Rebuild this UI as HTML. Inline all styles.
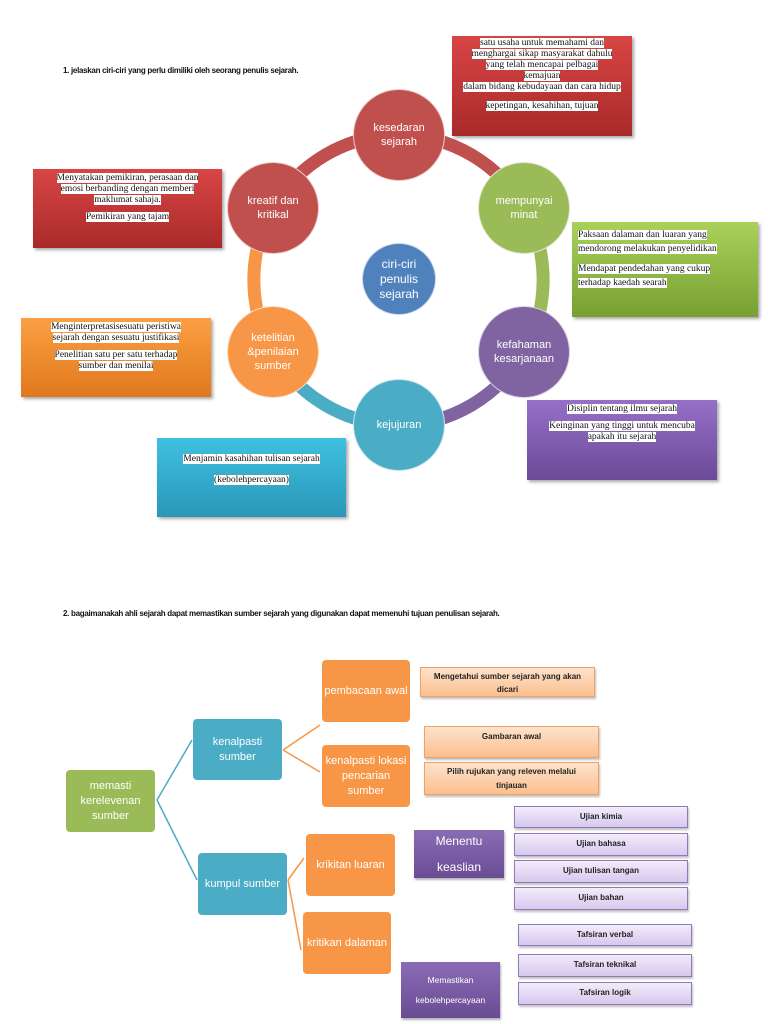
<!DOCTYPE html>
<html><head><meta charset="utf-8"><style>
body{margin:0;width:768px;height:1024px;background:#fff;position:relative;overflow:hidden;font-family:"Liberation Sans",sans-serif}
.t{position:absolute;font-size:8px;font-weight:bold;color:#111;white-space:nowrap;letter-spacing:-0.3px}
.box{position:absolute;box-sizing:border-box;text-align:center;font-family:"Liberation Serif",serif;font-size:9.5px;line-height:11px;color:#111;box-shadow:2px 2px 3px rgba(0,0,0,.35)}
.box span{background:#fff}
.box p{margin:0 0 6px 0}
.c{position:absolute;border-radius:50%;color:#fff;text-align:center;display:flex;align-items:center;justify-content:center;font-size:11px;line-height:14px;border:1.5px solid rgba(255,255,255,.7);box-sizing:border-box}
.n{position:absolute;box-sizing:border-box;border-radius:4px;color:#fff;display:flex;align-items:center;justify-content:center;text-align:center;font-size:11px;line-height:15px}
.lo{position:absolute;box-sizing:border-box;background:linear-gradient(#fde3cc,#fbbf8f);border:1px solid #f5a060;text-align:center;font-size:8px;font-weight:bold;color:#222;line-height:16px;box-shadow:1px 2px 2px rgba(0,0,0,.25)}
.lv{position:absolute;box-sizing:border-box;background:linear-gradient(#f2ecfa,#d7c8ee);border:1px solid #8f7ab8;text-align:center;font-size:8px;font-weight:bold;color:#222;line-height:20px;box-shadow:1px 2px 2px rgba(0,0,0,.25)}
</style></head><body>
<div class="t" style="left:63px;top:66px">1. jelaskan ciri-ciri yang perlu dimiliki oleh seorang penulis sejarah.</div>
<svg style="position:absolute;left:0;top:0" width="768" height="600">
<g fill="none" stroke-width="13">
<path d="M399 135 A145 145 0 0 1 524 208" stroke="#c0504d"/>
<path d="M524 208 A145 145 0 0 1 524 352" stroke="#9bbb59"/>
<path d="M524 352 A145 145 0 0 1 399 425" stroke="#8064a2"/>
<path d="M399 425 A145 145 0 0 1 273 352" stroke="#4bacc6"/>
<path d="M273 352 A145 145 0 0 1 273 208" stroke="#f79646"/>
<path d="M273 208 A145 145 0 0 1 399 135" stroke="#c0504d"/>
</g></svg>
<div class="c" style="left:353px;top:89px;width:92px;height:92px;background:#c0504d">kesedaran<br>sejarah</div>
<div class="c" style="left:478px;top:162px;width:92px;height:92px;background:#9bbb59">mempunyai<br>minat</div>
<div class="c" style="left:478px;top:306px;width:92px;height:92px;background:#8064a2">kefahaman<br>kesarjanaan</div>
<div class="c" style="left:353px;top:379px;width:92px;height:92px;background:#4bacc6">kejujuran</div>
<div class="c" style="left:227px;top:306px;width:92px;height:92px;background:#f79646">ketelitian<br>&amp;penilaian<br>sumber</div>
<div class="c" style="left:227px;top:162px;width:92px;height:92px;background:#c0504d">kreatif dan<br>kritikal</div>
<div class="c" style="left:362px;top:243px;width:74px;height:72px;background:#4f81bd;font-size:12px;line-height:15px">ciri-ciri<br>penulis<br>sejarah</div>

<div class="box" style="left:452px;top:36px;width:180px;height:100px;background:linear-gradient(#d94545,#a92a2a);padding-top:2px"><span>satu usaha untuk memahami dan</span><br><span>menghargai sikap masyarakat dahulu</span><br><span>yang telah mencapai pelbagai</span><br><span>kemajuan</span><br><span>dalam bidang kebudayaan dan cara hidup</span><p style="margin-top:8px"><span>kepetingan, kesahihan, tujuan</span></p></div>
<div class="box" style="left:33px;top:169px;width:189px;height:79px;background:linear-gradient(#d94545,#a92a2a);padding-top:4px"><p><span>Menyatakan pemikiran, perasaan dan</span><br><span>emosi berbanding dengan memberi</span><br><span>maklumat sahaja.</span></p><p><span>Pemikiran yang tajam</span></p></div>
<div class="box" style="left:572px;top:222px;width:186px;height:95px;background:linear-gradient(#a9d15a,#78a032);text-align:left;padding:6px 0 0 6px;line-height:14px"><p><span>Paksaan dalaman dan luaran yang</span><br><span>mendorong melakukan penyelidikan</span></p><p><span>Mendapat pendedahan yang cukup</span><br><span>terhadap kaedah searah</span></p></div>
<div class="box" style="left:21px;top:318px;width:190px;height:79px;background:linear-gradient(#fba043,#e0781c);padding-top:4px"><p><span>Menginterpretasisesuatu peristiwa</span><br><span>sejarah dengan sesuatu justifikasi</span></p><p><span>Penelitian satu per satu terhadap</span><br><span>sumber dan menilai</span></p></div>
<div class="box" style="left:527px;top:400px;width:190px;height:80px;background:linear-gradient(#9670c8,#6b4a98);padding-top:4px"><p><span>Disiplin tentang ilmu sejarah</span></p><p><span>Keinginan yang tinggi untuk mencuba</span><br><span>apakah itu sejarah</span></p></div>
<div class="box" style="left:157px;top:438px;width:189px;height:79px;background:linear-gradient(#3fc0e0,#2a98b8);padding-top:16px"><p style="margin-bottom:10px"><span>Menjamin kasahihan tulisan sejarah</span></p><p><span>(kebolehpercayaan)</span></p></div>

<div class="t" style="left:63px;top:609px">2. bagaimanakah ahli sejarah dapat memastikan sumber sejarah yang digunakan dapat memenuhi tujuan penulisan sejarah.</div>
<svg style="position:absolute;left:0;top:600px" width="768" height="424" fill="none" stroke-width="1.5">
<path d="M157 200 L192 140 M157 200 L197 280" stroke="#4bacc6"/>
<path d="M283 150 L320 125 M283 150 L320 172 M288 280 L304 258 M288 280 L301 350" stroke="#f79646"/>
</svg>
<div class="n" style="left:66px;top:770px;width:89px;height:62px;background:#9bbb59">memasti<br>kerelevenan<br>sumber</div>
<div class="n" style="left:193px;top:719px;width:89px;height:61px;background:#4bacc6">kenalpasti<br>sumber</div>
<div class="n" style="left:198px;top:853px;width:89px;height:62px;background:#4bacc6">kumpul sumber</div>
<div class="n" style="left:322px;top:660px;width:88px;height:62px;background:#f79646">pembacaan awal</div>
<div class="n" style="left:322px;top:745px;width:88px;height:62px;background:#f79646">kenalpasti lokasi<br>pencarian sumber</div>
<div class="n" style="left:306px;top:834px;width:89px;height:62px;background:#f79646">krikitan luaran</div>
<div class="n" style="left:303px;top:912px;width:88px;height:62px;background:#f79646">kritikan dalaman</div>
<div class="n" style="left:414px;top:830px;width:90px;height:48px;background:linear-gradient(#8a6cb4,#6a4c94);border-radius:0;font-size:12px;line-height:26px;box-shadow:1px 2px 2px rgba(0,0,0,.3)">Menentu<br>keaslian</div>
<div class="n" style="left:401px;top:962px;width:99px;height:56px;background:linear-gradient(#8a6cb4,#6a4c94);border-radius:0;font-size:8.5px;line-height:20px;box-shadow:1px 2px 2px rgba(0,0,0,.3)">Memastikan<br>kebolehpercayaan</div>
<div class="lo" style="left:420px;top:667px;width:175px;height:30px;line-height:13px;padding-top:2px">Mengetahui sumber sejarah yang akan<br>dicari</div>
<div class="lo" style="left:424px;top:726px;width:175px;height:32px;padding-top:2px">Gambaran awal</div>
<div class="lo" style="left:424px;top:762px;width:175px;height:33px;line-height:14px;padding-top:2px">Pilih rujukan yang releven melalui<br>tinjauan</div>
<div class="lv" style="left:514px;top:806px;width:174px;height:22px">Ujian kimia</div>
<div class="lv" style="left:514px;top:833px;width:174px;height:23px">Ujian bahasa</div>
<div class="lv" style="left:514px;top:860px;width:174px;height:23px">Ujian tulisan tangan</div>
<div class="lv" style="left:514px;top:887px;width:174px;height:23px">Ujian bahan</div>
<div class="lv" style="left:518px;top:924px;width:174px;height:22px">Tafsiran verbal</div>
<div class="lv" style="left:518px;top:954px;width:174px;height:23px">Tafsiran teknikal</div>
<div class="lv" style="left:518px;top:982px;width:174px;height:23px">Tafsiran logik</div>
</body></html>
